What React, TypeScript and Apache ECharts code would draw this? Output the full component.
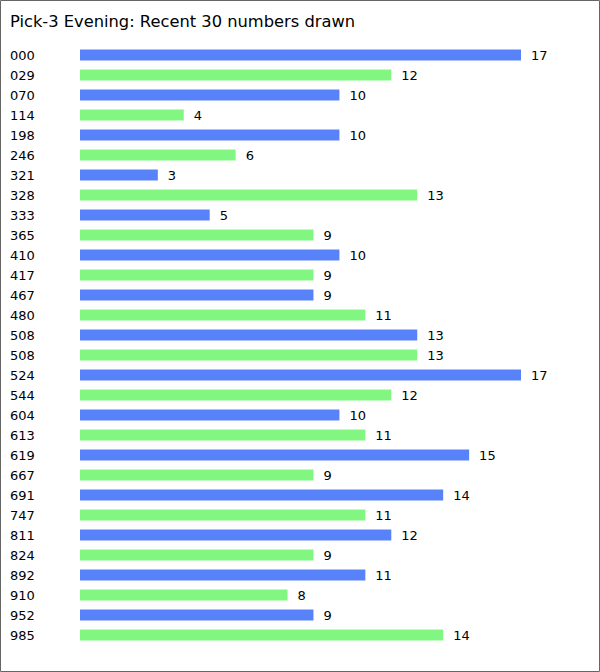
import React, { useEffect, useRef } from "react";
import * as echarts from "echarts";

const categories = ["000","029","070","114","198","246","321","328","333","365","410","417","467","480","508","508","524","544","604","613","619","667","691","747","811","824","892","910","952","985"];
const values = [17,12,10,4,10,6,3,13,5,9,10,9,9,11,13,13,17,12,10,11,15,9,14,11,12,9,11,8,9,14];
const colors = ["#5882FA", "#81F781"];
const titleText = "Pick-3 Evening: Recent 30 numbers drawn";

export default function App() {
  const ref = useRef<HTMLDivElement>(null);
  useEffect(() => {
    document.body.style.margin = "0";
    const chart = echarts.init(ref.current!, null, { renderer: "svg" });
    const font = "DejaVu Sans, Verdana, sans-serif";
    chart.setOption({
      animation: false,
      backgroundColor: "#ffffff",
      title: {
        text: titleText,
        left: 10,
        top: 13,
        padding: 0,
        textStyle: { fontFamily: font, fontSize: 16.3, fontWeight: "normal", color: "#000" },
      },
      graphic: [
        {
          type: "rect",
          shape: { x: 0.5, y: 0.5, width: 599, height: 671 },
          style: { fill: "none", stroke: "#666", lineWidth: 1 },
          silent: true,
        },
      ],
      grid: { left: 80, right: 79, top: 45, height: 600 },
      xAxis: { type: "value", min: 0, max: 17, show: false },
      yAxis: {
        type: "category",
        data: categories,
        inverse: true,
        axisLine: { show: false },
        axisTick: { show: false },
        splitLine: { show: false },
        axisLabel: {
          interval: 0,
          align: "left",
          margin: 70,
          fontFamily: font,
          fontSize: 13,
          color: "#000",
        },
      },
      series: [
        {
          type: "bar",
          data: values.map((v, i) => ({ value: v, itemStyle: { color: colors[i % 2] } })),
          barWidth: 11,
          label: {
            show: true,
            position: "right",
            distance: 10,
            fontFamily: font,
            fontSize: 13,
            color: "#000",
          },
        },
      ],
    });
    return () => chart.dispose();
  }, []);
  return <div ref={ref} style={{ width: 600, height: 672 }} />;
}
